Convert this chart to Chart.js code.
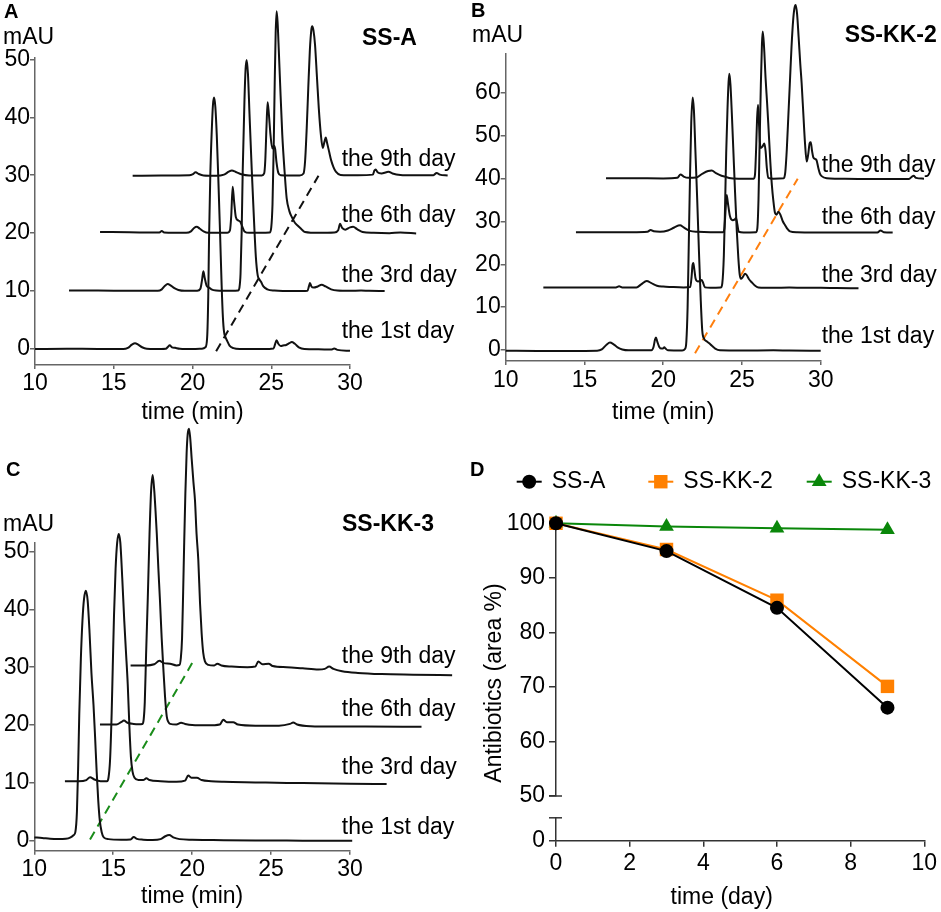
<!DOCTYPE html>
<html><head><meta charset="utf-8">
<script src="https://cdn.jsdelivr.net/npm/chart.js@4.4.1/dist/chart.umd.min.js"></script>
<style>
html,body{margin:0;padding:0;background:#fff;}
#wrap{position:relative;width:941px;height:912px;overflow:hidden;background:#fff;}
canvas{position:absolute;}
</style></head><body><div id="wrap">
<canvas id="cA" width="470" height="430" style="left:0;top:0"></canvas>
<canvas id="cB" width="471" height="430" style="left:470px;top:0"></canvas>
<canvas id="cC" width="470" height="492" style="left:0;top:420px"></canvas>
<canvas id="cD1" width="471" height="380" style="left:470px;top:440px"></canvas>
<canvas id="cD2" width="471" height="112" style="left:470px;top:800px"></canvas>
</div>
<script>
// ---------- Panel A (SS-A), traces as plotted: [time (min), mAU] ----------
const A_day1 = [[10,0],[12,0.05],[14,0],[15.6,0],[15.9,0.2],[16.15,0.75],[16.35,1.0],[16.55,0.75],[16.8,0.3],[17.1,0.05],[17.6,0],[18.3,0.05],[18.45,0.4],[18.55,0.65],[18.7,0.3],[18.9,0.2],[19.2,0.05],[20.0,0],[20.6,0.05],[20.82,0.3],[20.93,2],[21.0,9],[21.05,19],[21.13,30],[21.22,37.5],[21.3,42.2],[21.37,43.4],[21.45,41.8],[21.54,37],[21.65,28.5],[21.75,20],[21.85,11],[21.93,5.5],[22.0,3],[22.1,2],[22.2,1.4],[22.35,0.6],[22.6,0.15],[23,0],[24.5,0],[25.15,0.1],[25.25,0.9],[25.34,1.5],[25.45,0.9],[25.6,0.5],[25.75,0.6],[25.95,0.7],[26.15,1.0],[26.3,1.2],[26.5,0.9],[26.75,0.3],[27.1,0],[28,-0.05],[28.8,-0.1],[29.0,0.1],[29.2,-0.15],[30,-0.3]];
const A_day3 = [[12.16,10.1],[14,10.1],[16,10.05],[17.8,10.05],[18.05,10.3],[18.25,10.9],[18.42,11.2],[18.6,11.0],[18.85,10.5],[19.1,10.2],[19.5,10.05],[20.3,10.05],[20.5,10.4],[20.6,11.8],[20.69,13.4],[20.78,12.2],[20.9,10.9],[21.05,10.6],[21.2,10.3],[21.5,10.1],[22.0,10.05],[22.9,10.1],[22.98,10.6],[23.05,13],[23.12,20],[23.19,31],[23.3,43],[23.37,48.3],[23.44,49.9],[23.52,47.5],[23.62,40.5],[23.76,31],[23.9,22.5],[24.02,16],[24.14,12.7],[24.25,12],[24.35,11.6],[24.5,10.8],[24.75,10.3],[25.2,10.1],[26.5,10],[27.3,10.05],[27.4,10.9],[27.46,11.4],[27.55,10.8],[27.7,10.6],[27.95,10.8],[28.2,11.1],[28.45,10.8],[28.8,10.3],[29.2,10.1],[30,10.05],[30.7,10.1],[31.2,10.05],[32.2,10.0]];
const A_day6 = [[14.13,20.2],[16,20.15],[17.9,20.1],[18.05,20.35],[18.2,20.1],[19.6,20.05],[19.9,20.3],[20.1,20.9],[20.27,21.1],[20.45,20.8],[20.7,20.3],[21.0,20.05],[22.2,20.05],[22.38,20.5],[22.46,23],[22.55,28],[22.64,25.5],[22.75,22.8],[22.9,22.2],[23.05,21.9],[23.15,21.2],[23.3,20.3],[23.6,20.05],[24.9,20.1],[25.0,21],[25.08,25],[25.15,34],[25.22,46],[25.28,54.5],[25.34,58.3],[25.4,56.5],[25.48,51.5],[25.56,46],[25.7,37],[25.85,30.5],[25.98,26],[26.15,23.8],[26.3,22.8],[26.5,21.8],[26.72,21.2],[26.95,20.6],[27.14,20.2],[28,20.05],[29.0,20.1],[29.25,20.5],[29.37,21.6],[29.5,20.9],[29.7,20.6],[30.0,21.0],[30.2,21.1],[30.45,20.7],[30.8,20.2],[31.5,20.05],[32.5,20],[33.2,20.1],[34.2,19.95]];
const A_day9 = [[16.2,29.9],[18,29.95],[19.8,30],[20.0,30.15],[20.2,30.5],[20.4,30.2],[20.7,29.95],[21.5,29.9],[22.0,30.1],[22.3,30.6],[22.5,30.8],[22.75,30.55],[23.1,30.15],[23.6,29.95],[24.4,29.95],[24.55,30.3],[24.62,32.5],[24.7,38.5],[24.77,42.6],[24.85,40.5],[24.95,37],[25.07,34.6],[25.17,35.1],[25.25,34.5],[25.33,32.3],[25.45,30.4],[25.6,30.0],[26.8,29.95],[27.05,30.3],[27.15,32.5],[27.25,38],[27.35,45],[27.45,51.5],[27.55,55.2],[27.6,55.7],[27.68,55.0],[27.78,52.5],[27.9,47],[28.02,41.5],[28.15,37],[28.27,34.7],[28.38,35.8],[28.46,36.5],[28.55,35.5],[28.68,34],[28.8,32.6],[28.95,31.4],[29.1,30.6],[29.4,30.05],[30.5,30],[31.45,30.1],[31.55,30.8],[31.63,31.0],[31.75,30.5],[32.0,30.3],[32.3,30.5],[32.45,30.6],[32.7,30.3],[33.2,30.05],[34,30],[35.3,30],[35.5,30.4],[35.7,30.1],[36.2,29.95]];
const A_dash = [[21.5,-0.4],[28.0,29.9]];

// ---------- Panel B (SS-KK-2) ----------
const B_day1 = [[10,-0.2],[12,-0.25],[14,-0.25],[15.8,-0.2],[16.1,0.1],[16.4,1.2],[16.62,1.7],[16.85,1.3],[17.1,0.6],[17.4,0.1],[17.8,-0.1],[19.25,-0.1],[19.38,0.6],[19.48,2.4],[19.54,2.9],[19.62,2.0],[19.75,0.7],[19.9,0.3],[20.0,0.35],[20.07,0.6],[20.15,0.3],[20.3,-0.1],[21.2,-0.15],[21.38,0.2],[21.47,2],[21.55,10],[21.62,24],[21.7,40],[21.78,53],[21.87,59.0],[21.95,56],[22.05,46],[22.16,35],[22.27,23],[22.38,12],[22.48,4.5],[22.6,2.6],[22.76,2.0],[22.9,1.6],[23.08,1.0],[23.3,0.3],[23.6,-0.1],[25,-0.15],[27,-0.1],[28,-0.15],[30,-0.2]];
const B_day3 = [[12.39,14.6],[14,14.55],[16,14.55],[17.0,14.6],[17.2,14.85],[17.4,14.6],[18.3,14.6],[18.6,15.3],[18.95,16.1],[19.25,15.6],[19.6,15.0],[20.0,14.8],[20.5,14.7],[21.3,14.6],[21.72,14.7],[21.8,17],[21.86,19.8],[21.91,20.3],[21.97,19],[22.06,16.6],[22.2,16.0],[22.35,16.1],[22.44,16.3],[22.52,15.8],[22.65,14.6],[23.0,14.5],[23.65,14.55],[23.75,15.5],[23.85,22],[23.93,34],[24.0,46],[24.08,56],[24.15,62.5],[24.2,64.5],[24.27,62],[24.36,55],[24.45,47],[24.56,37],[24.67,28],[24.77,21.5],[24.86,17.5],[24.94,16.6],[25.05,17.0],[25.2,17.8],[25.3,17.5],[25.45,16.5],[25.62,15.8],[25.8,15.1],[26.04,14.6],[27,14.5],[28,14.55],[29,14.5],[30,14.5],[31,14.45],[32.4,14.4]];
const B_day6 = [[14.46,27.5],[16,27.5],[18,27.5],[19.0,27.6],[19.2,28.0],[19.4,27.7],[19.8,27.6],[20.3,27.9],[20.7,28.6],[21.07,29.1],[21.3,28.6],[21.7,27.8],[22.2,27.6],[23.0,27.5],[23.8,27.5],[23.88,28.2],[23.95,32],[24.03,36.2],[24.1,34.5],[24.24,31.2],[24.4,30.3],[24.55,30.5],[24.62,30.8],[24.7,29.5],[24.8,27.6],[25.1,27.45],[25.9,27.5],[25.98,28.5],[26.05,35],[26.12,48],[26.2,62],[26.27,71.5],[26.32,74.4],[26.4,71],[26.5,63.5],[26.6,57.5],[26.67,53],[26.8,44],[26.9,38.5],[26.99,35.0],[27.1,32.0],[27.2,31.6],[27.31,32.3],[27.45,31.5],[27.6,30.0],[27.73,29.2],[27.9,28.2],[28.05,27.7],[28.5,27.5],[30,27.45],[32,27.4],[33.6,27.45],[33.8,27.9],[34.0,27.5],[34.57,27.45]];
const B_day9 = [[16.37,40.1],[18,40.1],[20,40.05],[20.9,40.2],[21.1,41.0],[21.3,40.5],[21.6,40.2],[22.1,40.3],[22.5,41.2],[22.85,41.8],[23.08,41.9],[23.35,41.3],[23.7,40.7],[23.9,40.5],[24.3,40.1],[25.0,40.0],[25.75,40.0],[25.83,41.0],[25.9,47],[25.96,54],[26.02,57.3],[26.08,53],[26.14,48.5],[26.19,47.2],[26.3,47.5],[26.42,48.2],[26.5,46.5],[26.58,42.5],[26.67,40.2],[27,40],[27.65,40.1],[27.75,41.5],[27.85,47],[27.95,55],[28.05,63],[28.15,71],[28.25,77],[28.33,79.8],[28.41,80.6],[28.5,78.5],[28.6,73],[28.7,67],[28.79,62.3],[28.9,55],[29.0,48.5],[29.11,44.0],[29.2,45.5],[29.3,48.3],[29.37,48.5],[29.45,46.5],[29.53,45.0],[29.65,44.6],[29.74,44.3],[29.85,42.5],[29.95,41.2],[30.06,40.6],[30.38,40.1],[31,40],[33,39.9],[35.6,39.9],[35.8,40.5],[35.9,40.7],[36.05,40.2],[36.56,40.0]];
const B_dash = [[22.02,-0.8],[28.54,40.0]];

// ---------- Panel C (SS-KK-3) ----------
const C_day1 = [[10,0.6],[10.5,0.5],[11,0.35],[11.5,0.3],[12,0.35],[12.3,0.6],[12.5,1.0],[12.6,1.5],[12.7,5],[12.78,13],[12.85,22],[12.95,31.5],[13.05,38],[13.15,41.8],[13.27,43.2],[13.38,41.5],[13.5,36],[13.62,29],[13.75,23.5],[13.85,18],[13.95,12],[14.05,7],[14.15,3.5],[14.27,1.5],[14.4,0.6],[14.7,0.3],[15.5,0.2],[16.1,0.25],[16.3,0.65],[16.5,0.35],[16.9,0.2],[17.5,0.15],[18.0,0.3],[18.3,0.8],[18.55,1.0],[18.8,0.6],[19.2,0.3],[20,0.2],[21,0.15],[22,0.1],[24,0.05],[26,0.05],[28,0],[30.14,0]];
const C_day3 = [[11.94,10.3],[12.8,10.3],[13.3,10.5],[13.53,11.0],[13.8,10.6],[14.2,10.3],[14.6,10.3],[14.7,10.9],[14.8,14],[14.9,22],[14.97,30],[15.05,39],[15.15,47],[15.25,51.5],[15.35,53.0],[15.45,51.5],[15.57,45.5],[15.7,38],[15.8,33],[15.92,27],[16.02,20],[16.12,14.5],[16.22,12],[16.35,10.9],[16.6,10.5],[16.9,10.5],[17.1,10.8],[17.3,10.5],[18,10.3],[19,10.2],[19.55,10.4],[19.75,11.3],[19.95,10.9],[20.3,10.9],[20.6,10.5],[21.2,10.3],[22,10.2],[24,10.1],[26,10],[28,9.95],[30,9.85],[32.32,9.8]];
const C_day6 = [[14.16,20.1],[15.2,20.1],[15.5,20.5],[15.68,20.8],[15.9,20.4],[16.3,20.2],[16.6,20.15],[16.85,20.2],[16.93,21],[17.0,24],[17.08,32],[17.19,42],[17.3,53],[17.4,60.5],[17.5,63.2],[17.6,60.5],[17.68,57],[17.76,53],[17.86,47],[17.96,41.6],[18.07,35],[18.17,30],[18.28,25],[18.39,21.5],[18.5,20.5],[18.6,20.2],[19.0,20.1],[19.3,20.4],[19.55,20.2],[20,20],[21,19.95],[21.75,20.1],[21.97,20.9],[22.2,20.5],[22.6,20.5],[22.9,20.1],[24,19.9],[25.5,19.9],[26.2,20.2],[26.4,20.45],[26.65,20.1],[27.5,19.8],[29,19.75],[31,19.75],[34.53,19.7]];
const C_day9 = [[16.1,30.3],[17,30.3],[17.6,30.5],[17.92,31.1],[18.2,30.7],[18.6,30.6],[19.0,30.3],[19.2,30.4],[19.28,31.5],[19.36,35],[19.43,43],[19.49,50.7],[19.57,60],[19.65,67],[19.72,70.3],[19.8,71.2],[19.88,69.5],[19.97,66],[20.08,62],[20.18,58.8],[20.28,53],[20.39,48.5],[20.5,41],[20.6,35.9],[20.7,32.5],[20.81,31],[21.02,30.4],[21.4,30.3],[21.6,30.6],[21.85,30.3],[22.5,30.1],[23.5,30.0],[24.0,30.1],[24.19,31.0],[24.45,30.5],[24.85,30.6],[25.1,30.2],[26,30.0],[27,29.8],[28,29.6],[28.4,29.7],[28.68,30.1],[28.95,29.7],[29.5,29.3],[30.5,29.0],[32,28.8],[34,28.7],[36.47,28.6]];
const C_dash = [[13.53,0.24],[20.0,30.7]];

const DAY_LABELS = ['the 1st day','the 3rd day','the 6th day','the 9th day'];
const CHROM_X_TICKS = [10,15,20,25,30];
const A_Y_TICKS = [0,10,20,30,40,50];
const B_Y_TICKS = [0,10,20,30,40,50,60];
const C_Y_TICKS = [0,10,20,30,40,50];

// ---------- Panel D ----------
const D_DAYS = [0,3,6,9];
const D_SS_A = [100,94.9,84.5,66.2];
const D_SS_KK2 = [100,95.2,85.9,70.1];
const D_SS_KK3 = [100,99.4,99.1,98.8];
const D_X_TICKS = [0,2,4,6,8,10];
const D_Y_TICKS_UPPER = [50,60,70,80,90,100];
const D_Y_TICKS_LOWER = [0];

// ---------- helpers ----------
const FONT = '"Liberation Sans", Arial, Helvetica, sans-serif';
Chart.defaults.font.family = FONT;
Chart.defaults.font.size = 23;
Chart.defaults.color = '#000';

function marker(ctx, style, x, y, r, color) {
  ctx.save();
  ctx.fillStyle = color;
  ctx.beginPath();
  if (style === 'rect') {
    const s = Math.SQRT1_2 * r;
    ctx.rect(x - s, y - s, 2 * s, 2 * s);
  } else if (style === 'triangle') {
    ctx.moveTo(x, y - r);
    ctx.lineTo(x + Math.sin(2 * Math.PI / 3) * r, y + r / 2);
    ctx.lineTo(x - Math.sin(2 * Math.PI / 3) * r, y + r / 2);
    ctx.closePath();
  } else {
    ctx.arc(x, y, r, 0, Math.PI * 2);
  }
  ctx.fill();
  ctx.restore();
}

const annot = {
  id: 'annot',
  afterDraw(chart, args, opts) {
    const ctx = chart.ctx;
    (opts.lines || []).forEach(l => {
      const yp = l.dy !== undefined ? chart.scales.y.getPixelForValue(l.dy) : (l.top ? chart.chartArea.top : l.py);
      const xp = chart.chartArea.left;
      ctx.save();
      ctx.strokeStyle = l.color; ctx.lineWidth = l.width;
      ctx.beginPath(); ctx.moveTo(xp - l.left, yp); ctx.lineTo(xp + l.right, yp); ctx.stroke();
      ctx.restore();
    });
    (opts.items || []).forEach(it => {
      ctx.save();
      ctx.font = it.font || ('23px ' + FONT);
      ctx.fillStyle = '#000';
      ctx.textAlign = it.align || 'left';
      ctx.textBaseline = 'middle';
      const x = it.dx !== undefined ? chart.scales.x.getPixelForValue(it.dx) : it.px;
      const y = it.dy !== undefined ? chart.scales.y.getPixelForValue(it.dy) : it.py;
      ctx.translate(x, y);
      if (it.rotate) ctx.rotate(it.rotate);
      ctx.fillText(it.text, 0, 0);
      ctx.restore();
    });
    if (opts.legend) {
      const lg = opts.legend;
      lg.starts.forEach((x0, i) => {
        const ds = chart.data.datasets[i];
        ctx.save();
        ctx.strokeStyle = ds.borderColor; ctx.lineWidth = ds.borderWidth;
        ctx.beginPath(); ctx.moveTo(x0, lg.y); ctx.lineTo(x0 + lg.lineLen, lg.y); ctx.stroke();
        marker(ctx, ds.pointStyle, x0 + lg.lineLen / 2, lg.y, ds.pointRadius, ds.pointBackgroundColor);
        ctx.font = '23px ' + FONT; ctx.fillStyle = '#000'; ctx.textBaseline = 'middle'; ctx.textAlign = 'left';
        ctx.fillText(ds.label, x0 + lg.lineLen + lg.gap, lg.y);
        ctx.restore();
      });
    }
  }
};

const AX = '#666';
function chrom(id, c) {
  const toXY = a => a.map(p => ({x: p[0], y: p[1]}));
  const datasets = c.traces.map((tr, i) => ({
    label: DAY_LABELS[i], data: toXY(tr), borderColor: '#111', borderWidth: 2,
    pointRadius: 0, fill: false, cubicInterpolationMode: 'monotone', capBezierPoints: false, clip: false
  }));
  datasets.push({label: 'trend', data: toXY(c.dash), borderColor: c.dashColor, borderWidth: 2,
    borderDash: [9, 6], pointRadius: 0, fill: false, tension: 0, clip: false});
  const texts = c.texts.concat(DAY_LABELS.map((t, i) => ({text: t, dx: c.labelX, dy: c.labelY[i]})));
  return new Chart(document.getElementById(id), {
    type: 'line',
    data: {datasets},
    options: {
      responsive: false, animation: false, events: [],
      layout: {padding: c.padding},
      plugins: {legend: {display: false}, tooltip: {enabled: false}, annot: {items: texts}},
      scales: {
        x: {type: 'linear', position: 'bottom',
          afterDataLimits: s => { s.min = 10; s.max = 30; },
          afterBuildTicks: s => { s.ticks = CHROM_X_TICKS.map(v => ({value: v})); },
          afterFit: s => { s.height = c.xHeight; },
          border: {display: true, color: AX, width: 1.5},
          grid: {display: true, drawOnChartArea: false, drawTicks: true, tickLength: 4, color: AX, lineWidth: 1.5},
          ticks: {padding: c.xPad, maxRotation: 0, autoSkip: false, color: '#000'},
          title: {display: true, text: 'time (min)', color: '#000', padding: {top: 0, bottom: c.titlePad}}},
        y: {type: 'linear', min: c.yMin, max: c.yMax, bounds: 'data',
          afterBuildTicks: s => { s.ticks = c.yTicks.map(v => ({value: v})); },
          afterFit: s => { s.width = c.yWidth; },
          border: {display: true, color: AX, width: 1.5},
          grid: {display: true, drawOnChartArea: false, drawTicks: true, tickLength: 5, color: AX, lineWidth: 1.5},
          ticks: {padding: 0, autoSkip: false, color: '#000'}}
      }
    },
    plugins: [annot]
  });
}

const LETTER = 'bold 20px ' + FONT;
chrom('cA', {
  traces: [A_day1, A_day3, A_day6, A_day9], dash: A_dash, dashColor: '#111',
  padding: {left: 0, top: 57.3, right: 120, bottom: 0}, yWidth: 35, xHeight: 65,
  yMin: -2.76, yMax: 50.35, yTicks: A_Y_TICKS, xPad: 1, titlePad: 4,
  labelX: 29.47, labelY: [2.93, 12.6, 23.1, 32.6],
  texts: [{text: 'A', px: 4, py: 12, font: LETTER},
          {text: 'mAU', px: 3, py: 38},
          {text: 'SS-A', px: 362, py: 39, font: 'bold 23px ' + FONT}]
});
chrom('cB', {
  traces: [B_day1, B_day3, B_day6, B_day9], dash: B_dash, dashColor: '#ff7f0e',
  padding: {left: 0, top: 53.3, right: 120.3, bottom: 0}, yWidth: 35.7, xHeight: 69,
  yMin: -2.6, yMax: 69.3, yTicks: B_Y_TICKS, xPad: 2, titlePad: 4,
  labelX: 30.06, labelY: [3.0, 17.3, 30.8, 43.0],
  texts: [{text: 'B', px: 1, py: 11, font: LETTER},
          {text: 'mAU', px: 2, py: 36},
          {text: 'SS-KK-2', px: 466.7, py: 36, align: 'right', font: 'bold 23px ' + FONT}]
});
chrom('cC', {
  traces: [C_day1, C_day3, C_day6, C_day9], dash: C_dash, dashColor: '#1a8c1a',
  padding: {left: 0, top: 122.7, right: 120, bottom: 0}, yWidth: 34.3, xHeight: 61.3,
  yMin: -1.7, yMax: 51.5, yTicks: C_Y_TICKS, xPad: 1.5, titlePad: 1.5,
  labelX: 29.48, labelY: [2.25, 12.6, 22.7, 31.8],
  texts: [{text: 'C', px: 6, py: 50, font: LETTER},
          {text: 'mAU', px: 3, py: 105},
          {text: 'SS-KK-3', px: 342, py: 105, font: 'bold 23px ' + FONT}]
});

// ---------- Panel D: upper part (50-100) ----------
const DAX = '#333';
const xy = (xs, ys) => xs.map((x, i) => ({x, y: ys[i]}));
const dBaseX = {type: 'linear', min: 0, max: 10,
  afterBuildTicks: s => { s.ticks = D_X_TICKS.map(v => ({value: v})); }};
new Chart(document.getElementById('cD1'), {
  type: 'line',
  data: {datasets: [
    {label: 'SS-A', data: xy(D_DAYS, D_SS_A), borderColor: '#000', backgroundColor: '#000', pointBackgroundColor: '#000',
     pointBorderColor: '#000', borderWidth: 2, pointStyle: 'circle', pointRadius: 7, pointBorderWidth: 0, clip: false},
    {label: 'SS-KK-2', data: xy(D_DAYS, D_SS_KK2), borderColor: '#ff8000', backgroundColor: '#ff8000', pointBackgroundColor: '#ff8000',
     pointBorderColor: '#ff8000', borderWidth: 2, pointStyle: 'rect', pointRadius: 9.5, pointBorderWidth: 0, clip: false},
    {label: 'SS-KK-3', data: xy(D_DAYS, D_SS_KK3), borderColor: '#0a870a', backgroundColor: '#0a870a', pointBackgroundColor: '#0a870a',
     pointBorderColor: '#0a870a', borderWidth: 2, pointStyle: 'triangle', pointRadius: 8.5, pointBorderWidth: 0, clip: false}
  ]},
  options: {
    responsive: false, animation: false, events: [],
    layout: {padding: {left: 0, top: 83.3, right: 16.7, bottom: 24}},
    plugins: {legend: {display: false}, tooltip: {enabled: false},
      annot: {
        items: [{text: 'D', px: 0, py: 30, font: LETTER},
                {text: 'Antibiotics (area %)', px: 25, py: 243, align: 'center', rotate: -Math.PI / 2}],
        lines: [{dy: 50, left: 7, right: 6, color: DAX, width: 1.5}],
        legend: {y: 41.7, lineLen: 25, gap: 10, starts: [46.7, 178.3, 336.7]}
      }},
    scales: {
      x: Object.assign({display: false}, dBaseX),
      y: {type: 'linear', min: 50, max: 100, bounds: 'data',
        afterBuildTicks: s => { s.ticks = D_Y_TICKS_UPPER.map(v => ({value: v})); },
        afterFit: s => { s.width = 86; },
        border: {display: true, color: DAX, width: 1.5},
        grid: {display: true, drawOnChartArea: false, drawTicks: true, tickLength: 7, color: DAX, lineWidth: 1.5},
        ticks: {padding: 4, autoSkip: false, color: '#000'}}
    }
  },
  plugins: [annot]
});

// ---------- Panel D: lower part (0 segment + time axis) ----------
new Chart(document.getElementById('cD2'), {
  type: 'line',
  data: {datasets: []},
  options: {
    responsive: false, animation: false, events: [],
    layout: {padding: {left: 0, top: 16.7, right: 16.7, bottom: 0}},
    plugins: {legend: {display: false}, tooltip: {enabled: false},
      annot: {
        items: [{text: 'time (day)', px: 251.7, py: 97.3, align: 'center'}],
        lines: [{top: true, left: 7, right: 6, color: DAX, width: 1.5}]
      }},
    scales: {
      x: Object.assign({position: 'bottom',
        afterFit: s => { s.height = 71.3; },
        border: {display: true, color: DAX, width: 1.5},
        grid: {display: true, drawOnChartArea: false, drawTicks: true, tickLength: 6, color: DAX, lineWidth: 1.5},
        ticks: {padding: 3.5, maxRotation: 0, autoSkip: false, color: '#000'}}, dBaseX),
      y: {type: 'linear', min: 0, max: 4.4, bounds: 'data',
        afterBuildTicks: s => { s.ticks = D_Y_TICKS_LOWER.map(v => ({value: v})); },
        afterFit: s => { s.width = 86; },
        border: {display: true, color: DAX, width: 1.5},
        grid: {display: true, drawOnChartArea: false, drawTicks: true, tickLength: 7, color: DAX, lineWidth: 1.5},
        ticks: {padding: 4, autoSkip: false, color: '#000'}}
    }
  },
  plugins: [annot]
});
</script></body></html>
